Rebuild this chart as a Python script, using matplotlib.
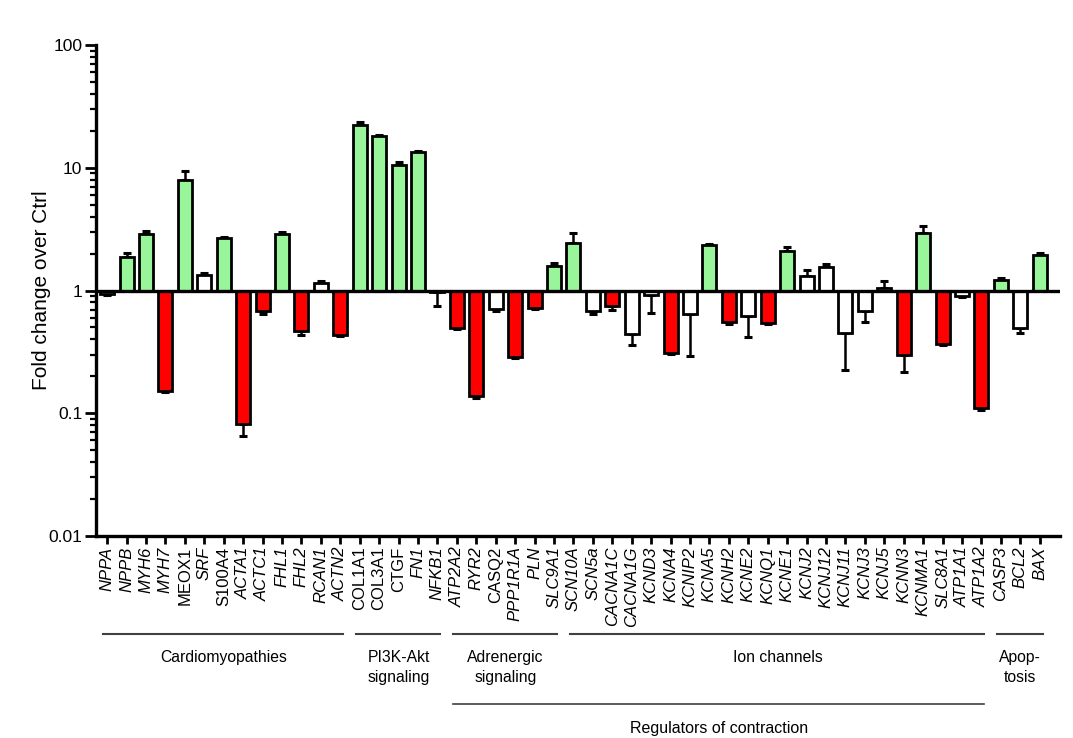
import matplotlib
matplotlib.use("Agg")
import matplotlib.pyplot as plt
import matplotlib.transforms as mtransforms
from matplotlib.ticker import LogLocator, FixedFormatter, FixedLocator, NullFormatter
import numpy as np

plt.rcParams['font.family'] = ['Liberation Sans', 'DejaVu Sans']

genes = ["NPPA", "NPPB", "MYH6", "MYH7", "MEOX1", "SRF", "S100A4", "ACTA1", "ACTC1",
         "FHL1", "FHL2", "RCAN1", "ACTN2",
         "COL1A1", "COL3A1", "CTGF", "FN1", "NFKB1",
         "ATP2A2", "RYR2", "CASQ2", "PPP1R1A", "PLN", "SLC9A1",
         "SCN10A", "SCN5a", "CACNA1C", "CACNA1G", "KCND3", "KCNA4", "KCNIP2", "KCNA5",
         "KCNH2", "KCNE2", "KCNQ1", "KCNE1", "KCNJ2", "KCNJ12", "KCNJ11", "KCNJ3",
         "KCNJ5", "KCNN3", "KCNMA1", "SLC8A1", "ATP1A1", "ATP1A2",
         "CASP3", "BCL2", "BAX"]

# fold change over control
fold = [0.94, 1.89, 2.90, 0.153, 7.98, 1.34, 2.69, 0.081, 0.68,
        2.86, 0.466, 1.155, 0.438,
        22.2, 18.2, 10.6, 13.5, 0.97,
        0.497, 0.137, 0.709, 0.286, 0.723, 1.58,
        2.43, 0.687, 0.745, 0.444, 0.916, 0.308, 0.646, 2.36,
        0.559, 0.62, 0.546, 2.09, 1.325, 1.55, 0.452, 0.687,
        1.05, 0.30, 2.93, 0.368, 0.90, 0.111,
        1.22, 0.497, 1.93]

# tip of the error bar (drawn away from the baseline)
err_tip = [0.92, 2.01, 3.04, 0.149, 9.5, 1.39, 2.72, 0.065, 0.646,
           2.98, 0.438, 1.19, 0.43,
           23.4, 18.6, 11.1, 13.8, 0.75,
           0.487, 0.133, 0.687, 0.281, 0.705, 1.67,
           2.95, 0.646, 0.70, 0.361, 0.653, 0.305, 0.295, 2.40,
           0.535, 0.417, 0.535, 2.25, 1.48, 1.63, 0.226, 0.552,
           1.20, 0.215, 3.38, 0.357, 0.89, 0.107,
           1.26, 0.449, 2.01]

# u = significantly up, d = significantly down, n = not significant
status = ["n", "u", "u", "d", "u", "n", "u", "d", "d",
          "u", "d", "n", "d",
          "u", "u", "u", "u", "n",
          "d", "d", "n", "d", "d", "u",
          "u", "n", "d", "n", "n", "d", "n", "u",
          "d", "n", "d", "u", "n", "n", "n", "n",
          "n", "d", "u", "d", "n", "d",
          "u", "n", "u"]

upright = {"MEOX1", "S100A4", "COL1A1", "COL3A1", "CTGF", "CASQ2"}

groups = [("Cardiomyopathies", 0, 12),
          ("PI3K-Akt\nsignaling", 13, 17),
          ("Adrenergic\nsignaling", 18, 23),
          ("Ion channels", 24, 45),
          ("Apop-\ntosis", 46, 48)]

palette = {"u": "#98F59A", "d": "#FF0000", "n": "#FFFFFF"}

fig = plt.figure(figsize=(10.73, 7.38), dpi=100)
ax = fig.add_axes([0.0895, 0.2737, 0.8985, 0.6653])

x = np.arange(len(genes))
fold_a = np.array(fold)
tip_a = np.array(err_tip)

lower = np.where(fold_a < 1, fold_a - tip_a, 0)
upper = np.where(fold_a >= 1, tip_a - fold_a, 0)
ax.errorbar(x, fold_a, yerr=[lower, upper], fmt="none", ecolor="black",
            elinewidth=1.8, capsize=3, capthick=2.2, zorder=2)

ax.bar(x, fold_a - 1, bottom=1, width=0.72,
       color=[palette[s] for s in status], edgecolor="black", linewidth=2.0, zorder=3)

ax.axhline(1, color="black", linewidth=2.4, zorder=4)

ax.set_yscale("log")
ax.set_ylim(0.01, 100)
ax.set_xlim(-0.57, 49.05)

ax.yaxis.set_major_locator(FixedLocator([0.01, 0.1, 1, 10, 100]))
ax.yaxis.set_major_formatter(FixedFormatter(["0.01", "0.1", "1", "10", "100"]))
ax.yaxis.set_minor_locator(LogLocator(base=10, subs=np.arange(2, 10)))
ax.yaxis.set_minor_formatter(NullFormatter())
ax.tick_params(axis="y", which="major", length=8, width=2, labelsize=12.5, pad=2)
ax.tick_params(axis="y", which="minor", length=4, width=1.6)

ax.set_xticks(x)
ax.set_xticklabels(genes, rotation=90, ha="center", va="top", fontsize=12)
for lab in ax.get_xticklabels():
    if lab.get_text() not in upright:
        lab.set_fontstyle("italic")
ax.tick_params(axis="x", length=6, width=2, pad=1.5)

for side in ("top", "right"):
    ax.spines[side].set_visible(False)
for side in ("left", "bottom"):
    ax.spines[side].set_linewidth(2.4)

ax.set_ylabel("Fold change over Ctrl", fontsize=15)
ax.yaxis.set_label_coords(-0.047, 0.5)

# pathway brackets under the gene labels
trans = mtransforms.blended_transform_factory(ax.transData, fig.transFigure)
line_y = 1 - 634 / 738
text_y = 1 - 650 / 738
for name, i0, i1 in groups:
    ax.plot([i0 - 0.2, i1 + 0.15], [line_y, line_y], transform=trans, clip_on=False,
            color="#404040", linewidth=1.5)
    ax.text((i0 + i1) / 2, text_y, name, transform=trans, ha="center", va="top",
            fontsize=11.3, linespacing=1.45)

reg_y = 1 - 704 / 738
ax.plot([17.8, 45.15], [reg_y, reg_y], transform=trans, clip_on=False,
        color="#404040", linewidth=1.2)
ax.text(31.5, 1 - 721 / 738, "Regulators of contraction", transform=trans,
        ha="center", va="top", fontsize=11.5)

fig.savefig("out.png", dpi=100, facecolor="white")
